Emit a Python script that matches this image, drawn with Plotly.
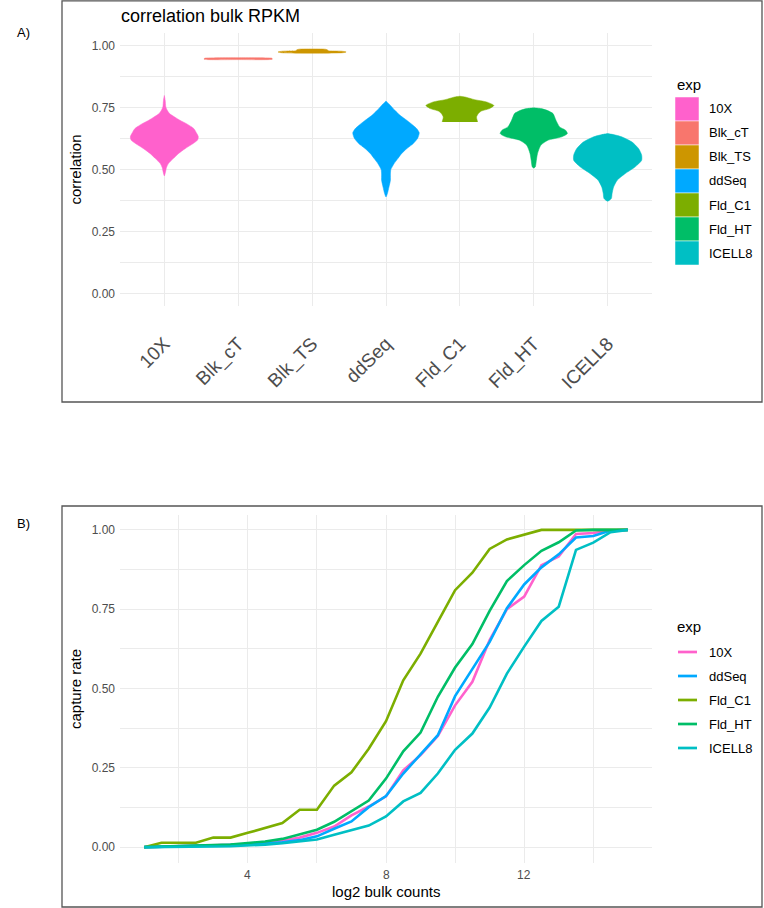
import plotly.graph_objects as go

W, H = 764, 908

# ---- panel A: correlation with bulk RPKM (violins) ----
categories = ["10X", "Blk_cT", "Blk_TS", "ddSeq", "Fld_C1", "Fld_HT", "ICELL8"]
colors = ["#FF61CC", "#F8766D", "#CD9600", "#00A9FF", "#7CAE00", "#00BE67", "#00BFC4"]

# violin outlines: correlation level -> half width of the violin
v_10x_y = [0.475, 0.49, 0.51, 0.525, 0.545, 0.565, 0.585, 0.606, 0.62, 0.633, 0.646,
           0.666, 0.686, 0.70, 0.713, 0.727, 0.74, 0.754, 0.78, 0.80]
v_10x_w = [0.0, 0.015, 0.03, 0.055, 0.12, 0.19, 0.28, 0.39, 0.45, 0.46, 0.44,
           0.40, 0.30, 0.21, 0.14, 0.07, 0.04, 0.02, 0.012, 0.0]

v_blkct_y = [0.945, 0.9465, 0.949, 0.951, 0.953]
v_blkct_w = [0.0, 0.46, 0.46, 0.45, 0.0]

v_blkts_y = [0.971, 0.973, 0.976, 0.979, 0.981, 0.984, 0.987, 0.988]
v_blkts_w = [0.0, 0.42, 0.46, 0.40, 0.22, 0.21, 0.18, 0.0]

v_ddseq_y = [0.39, 0.405, 0.43, 0.458, 0.48, 0.50, 0.525, 0.545, 0.565, 0.585, 0.606,
             0.628, 0.649, 0.665, 0.686, 0.70, 0.72, 0.74, 0.76, 0.778]
v_ddseq_w = [0.0, 0.02, 0.04, 0.06, 0.06, 0.065, 0.11, 0.16, 0.21, 0.28, 0.37,
             0.43, 0.45, 0.42, 0.34, 0.28, 0.19, 0.12, 0.06, 0.0]

v_fldc1_y = [0.693, 0.713, 0.727, 0.737, 0.747, 0.76, 0.774, 0.783, 0.794, 0.797]
v_fldc1_w = [0.24, 0.225, 0.25, 0.29, 0.40, 0.46, 0.36, 0.20, 0.07, 0.0]

v_fldht_y = [0.507, 0.511, 0.538, 0.565, 0.599, 0.619, 0.633, 0.646, 0.66, 0.673,
             0.70, 0.727, 0.74, 0.747, 0.75]
v_fldht_w = [0.0, 0.02, 0.035, 0.05, 0.095, 0.19, 0.38, 0.455, 0.43, 0.35,
             0.30, 0.26, 0.18, 0.10, 0.0]

v_icell8_y = [0.373, 0.384, 0.404, 0.43, 0.458, 0.485, 0.511, 0.538, 0.559, 0.585,
              0.612, 0.633, 0.642, 0.646]
v_icell8_w = [0.0, 0.05, 0.06, 0.08, 0.13, 0.24, 0.37, 0.46, 0.46, 0.42,
              0.33, 0.19, 0.08, 0.0]

# ---- panel B: capture rate vs log2 bulk counts ----
log2_counts = [1, 1.5, 2, 2.5, 3, 3.5, 4, 4.5, 5, 5.5, 6, 6.5, 7, 7.5, 8, 8.5, 9, 9.5,
               10, 10.5, 11, 11.5, 12, 12.5, 13, 13.5, 14, 14.5, 15]
cap_10x = [0, 0.001, 0.002, 0.003, 0.005, 0.007, 0.01, 0.014, 0.02, 0.03, 0.045, 0.065,
           0.10, 0.128, 0.16, 0.242, 0.29, 0.35, 0.447, 0.521, 0.653, 0.75, 0.79, 0.889,
           0.916, 0.987, 0.99, 0.998, 1.0]
cap_ddseq = [0, 0.001, 0.002, 0.003, 0.004, 0.006, 0.008, 0.011, 0.015, 0.022, 0.034,
             0.058, 0.081, 0.126, 0.161, 0.232, 0.292, 0.353, 0.476, 0.563, 0.647, 0.753,
             0.828, 0.882, 0.923, 0.976, 0.981, 0.998, 1.0]
cap_fldc1 = [0, 0.014, 0.014, 0.014, 0.03, 0.03, 0.045, 0.06, 0.076, 0.118, 0.118, 0.194,
             0.236, 0.31, 0.397, 0.526, 0.61, 0.71, 0.81, 0.865, 0.94, 0.97, 0.984, 1.0,
             1.0, 1.0, 1.0, 1.0, 1.0]
cap_fldht = [0, 0.002, 0.003, 0.004, 0.006, 0.008, 0.013, 0.018, 0.026, 0.04, 0.055,
             0.08, 0.113, 0.147, 0.216, 0.302, 0.361, 0.474, 0.566, 0.64, 0.745, 0.839,
             0.889, 0.934, 0.961, 0.998, 1.0, 1.0, 1.0]
cap_icell8 = [0, 0.0, 0.001, 0.001, 0.002, 0.003, 0.005, 0.008, 0.012, 0.017, 0.024,
              0.039, 0.053, 0.068, 0.097, 0.144, 0.171, 0.232, 0.307, 0.358, 0.44, 0.547,
              0.632, 0.713, 0.758, 0.937, 0.96, 0.993, 1.0]
line_exps = ["10X", "ddSeq", "Fld_C1", "Fld_HT", "ICELL8"]

y_ticks = [0, 0.25, 0.5, 0.75, 1.0]
y_ticktext = ["0.00", "0.25", "0.50", "0.75", "1.00"]
x2_ticks = [4, 8, 12]
x2_ticktext = ["4", "8", "12"]

FONT = "Liberation Sans, Arial, sans-serif"
TICK = "#4D4D4D"
GRID = "#EBEBEB"

profiles = {
    "10X": (v_10x_y, v_10x_w),
    "Blk_cT": (v_blkct_y, v_blkct_w),
    "Blk_TS": (v_blkts_y, v_blkts_w),
    "ddSeq": (v_ddseq_y, v_ddseq_w),
    "Fld_C1": (v_fldc1_y, v_fldc1_w),
    "Fld_HT": (v_fldht_y, v_fldht_w),
    "ICELL8": (v_icell8_y, v_icell8_w),
}
captures = {"10X": cap_10x, "ddSeq": cap_ddseq, "Fld_C1": cap_fldc1,
            "Fld_HT": cap_fldht, "ICELL8": cap_icell8}
color_of = dict(zip(categories, colors))


def px(x):
    return x / W


def py(y):
    return 1 - y / H


fig = go.Figure()

for i, cat in enumerate(categories):
    ys, ws = profiles[cat]
    xs = [i + w for w in ws] + [i - w for w in reversed(ws)]
    yy = list(ys) + list(reversed(ys))
    fig.add_trace(go.Scatter(
        x=xs, y=yy, mode="lines", fill="toself", fillcolor=color_of[cat],
        line=dict(color=color_of[cat], width=0.5, shape="spline", smoothing=0.6),
        name=cat, showlegend=False, xaxis="x", yaxis="y", hoverinfo="skip",
    ))

for exp in line_exps:
    fig.add_trace(go.Scatter(
        x=log2_counts, y=captures[exp], mode="lines",
        line=dict(color=color_of[exp], width=2.6),
        name=exp, showlegend=False, xaxis="x2", yaxis="y2",
    ))

minor_y = dict(tickvals=[0.125, 0.375, 0.625, 0.875], showgrid=True,
               gridcolor=GRID, gridwidth=0.6)

fig.update_layout(
    width=W, height=H, autosize=False,
    margin=dict(l=0, r=0, t=0, b=0),
    paper_bgcolor="white", plot_bgcolor="white",
    font=dict(family=FONT, color="black"),
    showlegend=False, hovermode=False,
    xaxis=dict(
        domain=[px(120), px(652)], anchor="y", range=[-0.6, 6.6],
        tickvals=list(range(len(categories))), ticktext=categories,
        tickangle=-45, tickfont=dict(size=19, color=TICK),
        showgrid=True, gridcolor=GRID, gridwidth=1.1, zeroline=False,
        ticks="", ticklabelstandoff=22,
    ),
    yaxis=dict(
        domain=[py(306), py(33)], anchor="x", range=[-0.0505, 1.0525],
        tickvals=y_ticks, ticktext=y_ticktext, tickfont=dict(size=12, color=TICK),
        showgrid=True, gridcolor=GRID, gridwidth=1.1, zeroline=False, ticks="",
        minor=minor_y, ticklabelstandoff=4,
        title=dict(text="correlation", font=dict(size=15, color="black"), standoff=6),
    ),
    xaxis2=dict(
        domain=[px(120), px(652)], anchor="y2", range=[0.3, 15.7],
        tickvals=x2_ticks, showticklabels=False,
        showgrid=True, gridcolor=GRID, gridwidth=1.1, zeroline=False, ticks="",
        minor=dict(tickvals=[2, 6, 10, 14], showgrid=True, gridcolor=GRID, gridwidth=0.6),
    ),
    yaxis2=dict(
        domain=[py(863), py(515)], anchor="x2", range=[-0.05, 1.047],
        tickvals=y_ticks, ticktext=y_ticktext, tickfont=dict(size=12, color=TICK),
        showgrid=True, gridcolor=GRID, gridwidth=1.1, zeroline=False, ticks="",
        minor=minor_y, ticklabelstandoff=4,
        title=dict(text="capture rate", font=dict(size=15, color="black"), standoff=6),
    ),
)

# x tick labels of panel B, placed on the x2 scale
for val, txt in zip(x2_ticks, x2_ticktext):
    fig.add_annotation(text=txt, x=val, xref="x2", y=py(875), yref="paper",
                       xanchor="center", yanchor="middle", showarrow=False,
                       font=dict(size=12, color=TICK))

# panel frames
for top, bottom in [(0.8, 402), (506, 907)]:
    fig.add_shape(type="rect", xref="paper", yref="paper",
                  x0=px(62), x1=px(762), y0=py(bottom), y1=py(top),
                  line=dict(color="#555555", width=1.3), fillcolor="rgba(0,0,0,0)")

# panel letters, title and the x title of panel B
fig.add_annotation(text="A)", x=px(15), y=py(23), xref="paper", yref="paper",
                   showarrow=False, font=dict(size=13, color="black"))
fig.add_annotation(text="B)", x=px(15), y=py(523), xref="paper", yref="paper",
                   showarrow=False, font=dict(size=13, color="black"))
fig.add_annotation(text="correlation bulk RPKM", x=px(119), y=py(16), xref="paper",
                   yref="paper", xanchor="left", yanchor="middle", showarrow=False,
                   font=dict(size=18, color="black"))
fig.add_annotation(text="log2 bulk counts", x=px(386), y=py(891), xref="paper",
                   yref="paper", xanchor="center", yanchor="middle", showarrow=False,
                   font=dict(size=15, color="black"))

# legend A (filled keys)
fig.add_annotation(text="exp", x=px(675), y=py(84), xref="paper", yref="paper",
                   xanchor="left", yanchor="middle", showarrow=False,
                   font=dict(size=15, color="black"))
for i, cat in enumerate(categories):
    top = 97 + 24 * i
    fig.add_shape(type="rect", xref="paper", yref="paper",
                  x0=px(675), x1=px(699), y0=py(top + 24), y1=py(top),
                  fillcolor=color_of[cat], line=dict(color="white", width=0.5))
    fig.add_annotation(text=cat, x=px(707), y=py(top + 12), xref="paper", yref="paper",
                       xanchor="left", yanchor="middle", showarrow=False,
                       font=dict(size=13, color="black"))

# legend B (line keys)
fig.add_annotation(text="exp", x=px(675), y=py(626), xref="paper", yref="paper",
                   xanchor="left", yanchor="middle", showarrow=False,
                   font=dict(size=15, color="black"))
for i, exp in enumerate(line_exps):
    yc = 652 + 24 * i
    fig.add_shape(type="line", xref="paper", yref="paper",
                  x0=px(678), x1=px(697), y0=py(yc), y1=py(yc),
                  line=dict(color=color_of[exp], width=2.7))
    fig.add_annotation(text=exp, x=px(707), y=py(yc), xref="paper", yref="paper",
                       xanchor="left", yanchor="middle", showarrow=False,
                       font=dict(size=13, color="black"))

fig.write_html("out.html", config={"displayModeBar": False},
               post_script="document.body.style.margin='0';")
